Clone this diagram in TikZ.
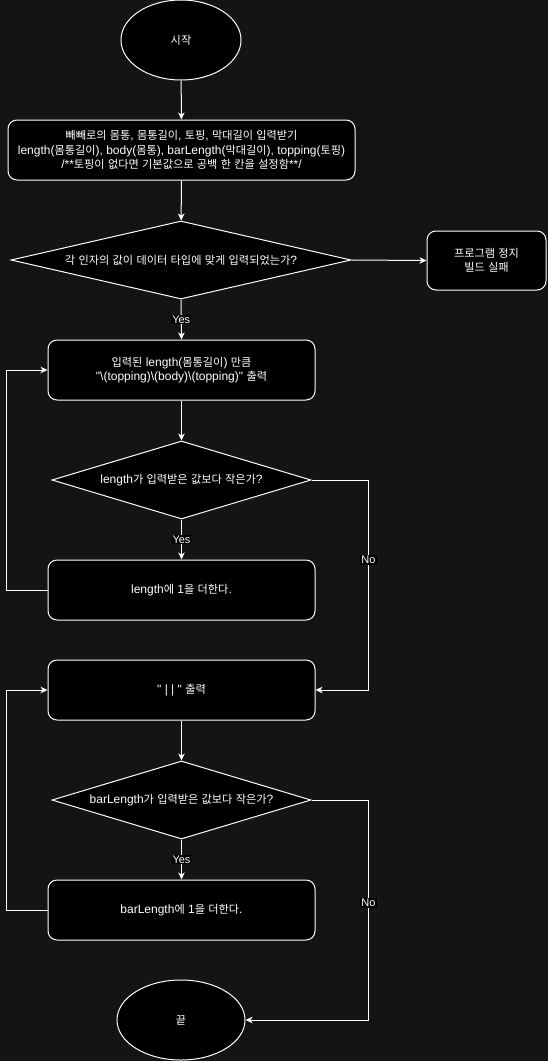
\documentclass[tikz,border=0pt]{standalone}
\usepackage{fontspec}
\setmainfont{Liberation Sans}
\newfontfamily\krfont{Noto Sans CJK KR}[Scale=0.93]
\XeTeXinterchartokenstate=1
\newXeTeXintercharclass\krclass
\count255="AC00
\loop\XeTeXcharclass\count255=\krclass\ifnum\count255<"D7A3 \advance\count255 by 1 \repeat
\XeTeXinterchartoks 0 \krclass={\begingroup\krfont}
\XeTeXinterchartoks 4095 \krclass={\begingroup\krfont}
\XeTeXinterchartoks \krclass 0={\endgroup}
\XeTeXinterchartoks \krclass 4095={\endgroup}
\usetikzlibrary{shapes.geometric,arrows.meta}
\definecolor{bgdark}{HTML}{141414}
\begin{document}
\begin{tikzpicture}[x=1pt,y=-1pt,
  every node/.style={text=white,font=\fontsize{12}{14.5}\selectfont},
  terminal/.style={ellipse,draw=white,fill=black,line width=1pt,minimum width=120pt,minimum height=80pt,inner sep=0pt},
  process/.style={rectangle,rounded corners=9pt,draw=white,fill=black,line width=1pt,minimum width=267pt,minimum height=60pt,align=center,inner sep=0pt},
  decision/.style={diamond,aspect=3.3,draw=white,fill=black,line width=1pt,minimum width=259pt,minimum height=78pt,inner sep=0pt},
  flow/.style={draw=white,line width=1pt,-{Stealth[length=7pt,width=6.5pt,inset=2pt]}},
  answer/.style={fill=black,inner sep=1pt,font=\fontsize{11}{13}\selectfont}]
\useasboundingbox[fill=bgdark] (0,0) rectangle (548,1061);
%start and input
\node[terminal] (start) at (181,40) {시작};
\node[process,minimum width=347pt] (input) at (181.5,150) {빼빼로의 몸통, 몸통길이, 토핑, 막대길이 입력받기\\length(몸통길이), body(몸통), barLength(막대길이), topping(토핑)\\/**토핑이 없다면 기본값으로 공백 한 칸을 설정함**/};
\node[decision,minimum width=340pt,aspect=4] (check) at (181,260) {각 인자의 값이 데이터 타입에 맞게 입력되었는가?};
\node[process,minimum width=119pt,minimum height=59pt] (stop) at (486.5,260.5) {프로그램 정지\\빌드 실패};
%body loop
\node[process] (print) at (181.5,370) {입력된 length(몸통길이) 만큼\\\textquotedbl\textbackslash(topping)\textbackslash(body)\textbackslash(topping)\textquotedbl{} 출력};
\node[decision] (lencheck) at (181.5,480) {length가 입력받은 값보다 작은가?};
\node[process] (leninc) at (181.5,590) {length에 1을 더한다.};
%bar loop
\node[process] (bar) at (181.5,690) {\textquotedbl{} | | \textquotedbl{} 출력};
\node[decision] (barcheck) at (181.5,800) {barLength가 입력받은 값보다 작은가?};
\node[process] (barinc) at (181.5,910) {barLength에 1을 더한다.};
\node[terminal,minimum width=128pt] (finish) at (181,1020) {끝};
%connectors
\draw[flow] (start) -- (input);
\draw[flow] (input) -- (check);
\draw[flow] (check.east) -- (stop.west);
\draw[flow] (check.south) -- node[answer]{Yes} (print.north);
\draw[flow] (print) -- (lencheck);
\draw[flow] (lencheck.south) -- node[answer]{Yes} (leninc.north);
\draw[flow] (leninc.west) -- ++(-41,0) |- (print.west);
\draw[flow] (lencheck.east) -- ++(57,0) |- node[answer,pos=0.19]{No} (bar.east);
\draw[flow] (bar) -- (barcheck);
\draw[flow] (barcheck.south) -- node[answer]{Yes} (barinc.north);
\draw[flow] (barinc.west) -- ++(-41,0) |- (bar.west);
\draw[flow] (barcheck.east) -- ++(57,0) |- node[answer,pos=0.234]{No} (finish.east);
\end{tikzpicture}
\end{document}
